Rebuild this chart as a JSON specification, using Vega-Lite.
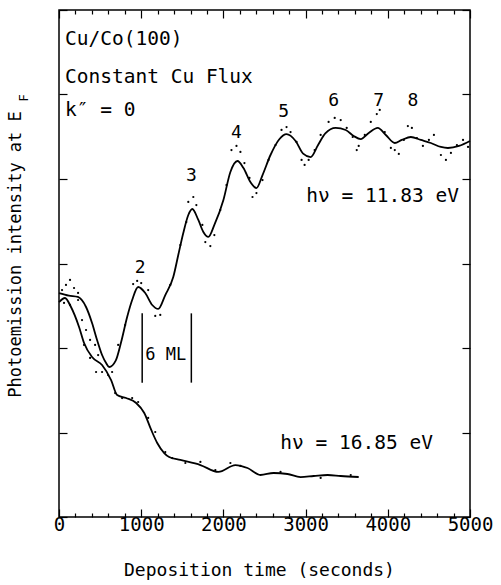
{
  "$schema": "https://vega.github.io/schema/vega-lite/v6.json",
  "width": 411,
  "height": 507,
  "autosize": {"type": "none"},
  "padding": {"left": 59, "top": 10, "right": 31, "bottom": 68},
  "background": "white",
  "config": {
    "view": {"stroke": "black", "strokeWidth": 1.5},
    "font": "DejaVu Sans Mono",
    "axis": {"domain": false, "grid": false, "tickColor": "black", "tickWidth": 1.2, "labelColor": "black", "titleColor": "black", "labelFont": "DejaVu Sans Mono", "titleFont": "DejaVu Sans Mono", "titleFontWeight": "normal"}
  },
  "datasets": {
    "curves": [
      {"t": 0, "I": 2.65, "series": "11.83"}, {"t": 120, "I": 2.62, "series": "11.83"}, {"t": 230, "I": 2.604, "series": "11.83"}, {"t": 329, "I": 2.485, "series": "11.83"}, {"t": 402, "I": 2.296, "series": "11.83"}, {"t": 463, "I": 2.095, "series": "11.83"}, {"t": 524, "I": 1.917, "series": "11.83"}, {"t": 573, "I": 1.822, "series": "11.83"}, {"t": 610, "I": 1.775, "series": "11.83"}, {"t": 690, "I": 1.85, "series": "11.83"}, {"t": 756, "I": 2.071, "series": "11.83"}, {"t": 829, "I": 2.367, "series": "11.83"}, {"t": 890, "I": 2.568, "series": "11.83"}, {"t": 963, "I": 2.722, "series": "11.83"}, {"t": 1049, "I": 2.651, "series": "11.83"}, {"t": 1134, "I": 2.509, "series": "11.83"}, {"t": 1207, "I": 2.462, "series": "11.83"}, {"t": 1293, "I": 2.627, "series": "11.83"}, {"t": 1390, "I": 2.84, "series": "11.83"}, {"t": 1451, "I": 3.101, "series": "11.83"}, {"t": 1512, "I": 3.361, "series": "11.83"}, {"t": 1573, "I": 3.574, "series": "11.83"}, {"t": 1622, "I": 3.645, "series": "11.83"}, {"t": 1695, "I": 3.515, "series": "11.83"}, {"t": 1756, "I": 3.373, "series": "11.83"}, {"t": 1817, "I": 3.314, "series": "11.83"}, {"t": 1890, "I": 3.456, "series": "11.83"}, {"t": 2000, "I": 3.751, "series": "11.83"}, {"t": 2085, "I": 4.083, "series": "11.83"}, {"t": 2171, "I": 4.213, "series": "11.83"}, {"t": 2244, "I": 4.13, "series": "11.83"}, {"t": 2329, "I": 3.964, "series": "11.83"}, {"t": 2402, "I": 3.893, "series": "11.83"}, {"t": 2476, "I": 4.047, "series": "11.83"}, {"t": 2573, "I": 4.284, "series": "11.83"}, {"t": 2680, "I": 4.47, "series": "11.83"}, {"t": 2768, "I": 4.53, "series": "11.83"}, {"t": 2878, "I": 4.45, "series": "11.83"}, {"t": 2970, "I": 4.3, "series": "11.83"}, {"t": 3061, "I": 4.26, "series": "11.83"}, {"t": 3150, "I": 4.4, "series": "11.83"}, {"t": 3240, "I": 4.54, "series": "11.83"}, {"t": 3366, "I": 4.604, "series": "11.83"}, {"t": 3488, "I": 4.58, "series": "11.83"}, {"t": 3585, "I": 4.509, "series": "11.83"}, {"t": 3671, "I": 4.473, "series": "11.83"}, {"t": 3768, "I": 4.544, "series": "11.83"}, {"t": 3878, "I": 4.604, "series": "11.83"}, {"t": 3976, "I": 4.521, "series": "11.83"}, {"t": 4085, "I": 4.426, "series": "11.83"}, {"t": 4170, "I": 4.462, "series": "11.83"}, {"t": 4280, "I": 4.497, "series": "11.83"}, {"t": 4402, "I": 4.462, "series": "11.83"}, {"t": 4524, "I": 4.426, "series": "11.83"}, {"t": 4646, "I": 4.379, "series": "11.83"}, {"t": 4732, "I": 4.367, "series": "11.83"}, {"t": 4866, "I": 4.391, "series": "11.83"}, {"t": 5000, "I": 4.45, "series": "11.83"},
      {"t": 0, "I": 2.544, "series": "16.85"}, {"t": 73, "I": 2.592, "series": "16.85"}, {"t": 146, "I": 2.485, "series": "16.85"}, {"t": 244, "I": 2.249, "series": "16.85"}, {"t": 305, "I": 2.059, "series": "16.85"}, {"t": 402, "I": 1.893, "series": "16.85"}, {"t": 524, "I": 1.799, "series": "16.85"}, {"t": 634, "I": 1.621, "series": "16.85"}, {"t": 707, "I": 1.444, "series": "16.85"}, {"t": 817, "I": 1.408, "series": "16.85"}, {"t": 939, "I": 1.349, "series": "16.85"}, {"t": 1037, "I": 1.231, "series": "16.85"}, {"t": 1122, "I": 1.03, "series": "16.85"}, {"t": 1195, "I": 0.876, "series": "16.85"}, {"t": 1280, "I": 0.757, "series": "16.85"}, {"t": 1340, "I": 0.71, "series": "16.85"}, {"t": 1476, "I": 0.675, "series": "16.85"}, {"t": 1720, "I": 0.615, "series": "16.85"}, {"t": 1939, "I": 0.533, "series": "16.85"}, {"t": 2146, "I": 0.615, "series": "16.85"}, {"t": 2293, "I": 0.58, "series": "16.85"}, {"t": 2451, "I": 0.497, "series": "16.85"}, {"t": 2610, "I": 0.521, "series": "16.85"}, {"t": 2780, "I": 0.509, "series": "16.85"}, {"t": 2939, "I": 0.473, "series": "16.85"}, {"t": 3098, "I": 0.485, "series": "16.85"}, {"t": 3268, "I": 0.497, "series": "16.85"}, {"t": 3427, "I": 0.485, "series": "16.85"}, {"t": 3646, "I": 0.473, "series": "16.85"}
    ],
    "dots": [
      {"t": 37, "I": 2.686}, {"t": 85, "I": 2.746}, {"t": 134, "I": 2.805}, {"t": 183, "I": 2.71}, {"t": 232, "I": 2.651}, {"t": 61, "I": 2.533}, {"t": 134, "I": 2.509}, {"t": 232, "I": 2.568}, {"t": 280, "I": 2.331}, {"t": 329, "I": 2.213}, {"t": 378, "I": 2.095}, {"t": 439, "I": 2.036}, {"t": 476, "I": 1.917}, {"t": 524, "I": 1.716}, {"t": 598, "I": 1.68}, {"t": 646, "I": 1.716}, {"t": 451, "I": 1.716}, {"t": 378, "I": 1.882}, {"t": 305, "I": 2.036}, {"t": 720, "I": 2.036}, {"t": 805, "I": 2.272}, {"t": 902, "I": 2.757}, {"t": 951, "I": 2.793}, {"t": 1000, "I": 2.769}, {"t": 1085, "I": 2.686}, {"t": 1171, "I": 2.379}, {"t": 1232, "I": 2.391},
      {"t": 683, "I": 1.467}, {"t": 768, "I": 1.408}, {"t": 890, "I": 1.408}, {"t": 963, "I": 1.361}, {"t": 1085, "I": 1.172}, {"t": 1171, "I": 1.006}, {"t": 1293, "I": 0.769}, {"t": 1378, "I": 0.698}, {"t": 1537, "I": 0.639}, {"t": 1720, "I": 0.651}, {"t": 1902, "I": 0.556}, {"t": 2085, "I": 0.639}, {"t": 2207, "I": 0.604}, {"t": 2695, "I": 0.533}, {"t": 3183, "I": 0.462}, {"t": 3549, "I": 0.497},
      {"t": 1354, "I": 2.746}, {"t": 1476, "I": 3.219}, {"t": 1549, "I": 3.491}, {"t": 1573, "I": 3.728}, {"t": 1634, "I": 3.787}, {"t": 1671, "I": 3.692}, {"t": 1744, "I": 3.456}, {"t": 1780, "I": 3.254}, {"t": 1841, "I": 3.207}, {"t": 1890, "I": 3.337}, {"t": 1963, "I": 3.633}, {"t": 2037, "I": 3.929},
      {"t": 2098, "I": 4.343}, {"t": 2159, "I": 4.391}, {"t": 2207, "I": 4.32}, {"t": 2256, "I": 4.189}, {"t": 2317, "I": 4.012}, {"t": 2354, "I": 3.787}, {"t": 2402, "I": 3.834}, {"t": 2476, "I": 3.988}, {"t": 2549, "I": 4.225}, {"t": 2634, "I": 4.402},
      {"t": 2707, "I": 4.58}, {"t": 2768, "I": 4.615}, {"t": 2817, "I": 4.556}, {"t": 2890, "I": 4.438}, {"t": 2951, "I": 4.225}, {"t": 2988, "I": 4.166}, {"t": 3037, "I": 4.225}, {"t": 3110, "I": 4.343},
      {"t": 3183, "I": 4.521}, {"t": 3280, "I": 4.675}, {"t": 3354, "I": 4.722}, {"t": 3427, "I": 4.698}, {"t": 3500, "I": 4.604}, {"t": 3573, "I": 4.497}, {"t": 3622, "I": 4.343}, {"t": 3646, "I": 4.391}, {"t": 3720, "I": 4.521}, {"t": 3793, "I": 4.675}, {"t": 3866, "I": 4.769}, {"t": 3902, "I": 4.817}, {"t": 3963, "I": 4.556}, {"t": 4037, "I": 4.367}, {"t": 4085, "I": 4.343}, {"t": 4134, "I": 4.296}, {"t": 4195, "I": 4.462}, {"t": 4244, "I": 4.627}, {"t": 4293, "I": 4.604}, {"t": 4354, "I": 4.485}, {"t": 4427, "I": 4.391}, {"t": 4500, "I": 4.462}, {"t": 4561, "I": 4.521}, {"t": 4646, "I": 4.284}, {"t": 4707, "I": 4.225}, {"t": 4768, "I": 4.308}, {"t": 4841, "I": 4.402}, {"t": 4915, "I": 4.462}, {"t": 4976, "I": 4.379}
    ],
    "leftText": [
      {"t": 73, "I": 5.657, "text": "Cu/Co(100)"},
      {"t": 73, "I": 5.207, "text": "Constant Cu Flux"},
      {"t": 73, "I": 4.817, "text": "k″ = 0"}
    ],
    "nums": [
      {"t": 988, "I": 2.947, "text": "2"},
      {"t": 1610, "I": 4.036, "text": "3"},
      {"t": 2159, "I": 4.544, "text": "4"},
      {"t": 2732, "I": 4.793, "text": "5"},
      {"t": 3341, "I": 4.923, "text": "6"},
      {"t": 3890, "I": 4.923, "text": "7"},
      {"t": 4305, "I": 4.923, "text": "8"}
    ],
    "rightText": [
      {"t": 4866, "I": 3.799, "text": "hν = 11.83 eV"},
      {"t": 4549, "I": 0.876, "text": "hν = 16.85 eV"}
    ],
    "mlText": [{"t": 1049, "I": 1.917, "text": "6 ML"}],
    "bars": [
      {"t": 1012, "I": 1.59, "I2": 2.41},
      {"t": 1610, "I": 1.59, "I2": 2.41}
    ],
    "sub": [{"t": -420, "I": 4.96, "text": "F"}]
  },
  "resolve": {"axis": {"x": "independent", "y": "independent"}},
  "layer": [
    {
      "data": {"name": "curves"},
      "mark": {"type": "line", "interpolate": "monotone", "color": "black", "strokeWidth": 1.8},
      "encoding": {
        "x": {"field": "t", "type": "quantitative", "scale": {"domain": [0, 5000], "nice": false},
          "axis": {"orient": "bottom", "title": "Deposition time (seconds)", "values": [0,200,400,600,800,1000,1200,1400,1600,1800,2000,2200,2400,2600,2800,3000,3200,3400,3600,3800,4000,4200,4400,4600,4800,5000],
            "format": "d", "labelExpr": "datum.value % 1000 === 0 ? datum.label : ''",
            "tickSize": {"condition": {"test": "datum.value % 1000 === 0", "value": -8}, "value": -4},
            "labelPadding": 15, "labelFontSize": 19, "labelBaseline": "middle", "labelFlush": false,
            "titleFontSize": 18, "titleX": 200, "titleY": 53, "titleBaseline": "middle", "titleAnchor": null}},
        "y": {"field": "I", "type": "quantitative", "scale": {"domain": [0, 6], "nice": false},
          "axis": {"orient": "left", "title": "Photoemission intensity at E", "values": [0,1,2,3,4,5,6], "labels": false, "tickSize": -8,
            "titleFontSize": 17, "titleX": -44, "titleY": 244, "titleBaseline": "middle", "titleAngle": 270}},
        "detail": {"field": "series"}
      }
    },
    {
      "data": {"name": "dots"},
      "mark": {"type": "point", "filled": true, "color": "black", "size": 5, "opacity": 1},
      "encoding": {
        "x": {"field": "t", "type": "quantitative", "scale": {"domain": [0, 5000], "nice": false},
          "axis": {"orient": "top", "title": null, "labels": false, "values": [0,200,400,600,800,1000,1200,1400,1600,1800,2000,2200,2400,2600,2800,3000,3200,3400,3600,3800,4000,4200,4400,4600,4800,5000],
            "tickSize": {"condition": {"test": "datum.value % 1000 === 0", "value": -8}, "value": -4}}},
        "y": {"field": "I", "type": "quantitative", "scale": {"domain": [0, 6], "nice": false},
          "axis": {"orient": "right", "title": null, "labels": false, "values": [0,1,2,3,4,5,6], "tickSize": -8}}
      }
    },
    {
      "data": {"name": "bars"},
      "mark": {"type": "rule", "color": "black", "strokeWidth": 1.5},
      "encoding": {
        "x": {"field": "t", "type": "quantitative", "axis": null},
        "y": {"field": "I", "type": "quantitative", "axis": null},
        "y2": {"field": "I2"}
      }
    },
    {
      "data": {"name": "leftText"},
      "mark": {"type": "text", "align": "left", "baseline": "middle", "fontSize": 19.5, "font": "DejaVu Sans Mono", "color": "black"},
      "encoding": {
        "x": {"field": "t", "type": "quantitative", "axis": null},
        "y": {"field": "I", "type": "quantitative", "axis": null},
        "text": {"field": "text"}
      }
    },
    {
      "data": {"name": "nums"},
      "mark": {"type": "text", "align": "center", "baseline": "middle", "fontSize": 18, "font": "DejaVu Sans Mono", "color": "black"},
      "encoding": {
        "x": {"field": "t", "type": "quantitative", "axis": null},
        "y": {"field": "I", "type": "quantitative", "axis": null},
        "text": {"field": "text"}
      }
    },
    {
      "data": {"name": "rightText"},
      "mark": {"type": "text", "align": "right", "baseline": "middle", "fontSize": 19.5, "font": "DejaVu Sans Mono", "color": "black"},
      "encoding": {
        "x": {"field": "t", "type": "quantitative", "axis": null},
        "y": {"field": "I", "type": "quantitative", "axis": null},
        "text": {"field": "text"}
      }
    },
    {
      "data": {"name": "mlText"},
      "mark": {"type": "text", "align": "left", "baseline": "middle", "fontSize": 17, "font": "DejaVu Sans Mono", "color": "black"},
      "encoding": {
        "x": {"field": "t", "type": "quantitative", "axis": null},
        "y": {"field": "I", "type": "quantitative", "axis": null},
        "text": {"field": "text"}
      }
    },
    {
      "data": {"name": "sub"},
      "mark": {"type": "text", "align": "center", "baseline": "middle", "fontSize": 12, "angle": 270, "font": "DejaVu Sans Mono", "color": "black", "clip": false},
      "encoding": {
        "x": {"field": "t", "type": "quantitative", "axis": null},
        "y": {"field": "I", "type": "quantitative", "axis": null},
        "text": {"field": "text"}
      }
    }
  ]
}
